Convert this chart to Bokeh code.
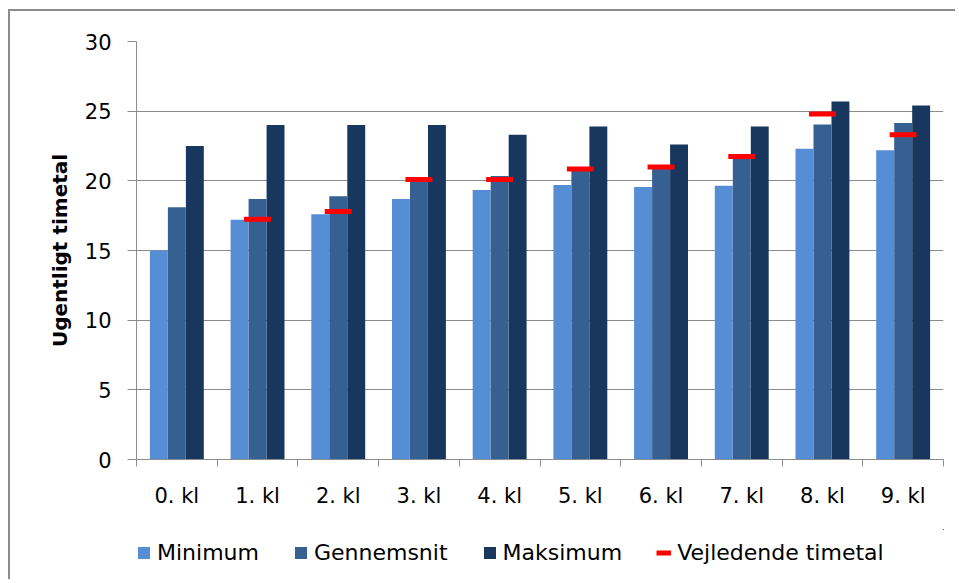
from bokeh.plotting import figure
from bokeh.layouts import column
from bokeh.models import (Range1d, FixedTicker, LinearAxis, Legend, LegendItem,
                          ColumnDataSource, Grid)
from bokeh.embed import file_html
from bokeh.resources import INLINE
import numpy as np

# ---- data ----
categories = ["0. kl", "1. kl", "2. kl", "3. kl", "4. kl",
              "5. kl", "6. kl", "7. kl", "8. kl", "9. kl"]
minimum = [15.0, 17.2, 17.6, 18.7, 19.35, 19.7, 19.55, 19.65, 22.3, 22.2]
gennemsnit = [18.1, 18.7, 18.9, 20.05, 20.35, 20.75, 20.95, 21.7, 24.05, 24.15]
maksimum = [22.5, 24.0, 24.0, 24.0, 23.3, 23.9, 22.6, 23.9, 25.7, 25.4]
vejledende = [None, 17.25, 17.8, 20.1, 20.1, 20.85, 21.0, 21.75, 24.8, 23.3]
y_ticks = [0, 5, 10, 15, 20, 25, 30]
series_names = ["Minimum", "Gennemsnit", "Maksimum", "Vejledende timetal"]

FONT = "DejaVu Sans"
GRAY = "#8c8c8c"
colors = ["#558ED5", "#376092", "#17375E"]
RED = "#FF0000"

# ---- main chart ----
p = figure(width=945, height=518, frame_width=807, frame_height=418,
           output_backend="svg", toolbar_location=None,
           x_range=Range1d(0, len(categories)), y_range=Range1d(0, 30),
           x_axis_type=None, y_axis_type=None,
           min_border_left=126, min_border_right=12, min_border_top=30,
           min_border_bottom=70)
p.outline_line_color = None
p.background_fill_color = "white"
p.border_fill_color = "white"

yax = LinearAxis(ticker=FixedTicker(ticks=y_ticks))
yax.axis_line_color = GRAY
yax.major_tick_line_color = GRAY
yax.major_tick_out = 9
yax.major_tick_in = 0
yax.minor_tick_line_color = None
yax.major_label_standoff = 16
yax.major_label_text_font = FONT
yax.major_label_text_font_size = "21px"
yax.major_label_text_color = "black"
yax.axis_label = "Ugentligt timetal"
yax.axis_label_text_font = FONT
yax.axis_label_text_font_style = "bold"
yax.axis_label_text_font_size = "20px"
yax.axis_label_text_color = "black"
yax.axis_label_standoff = 10
p.add_layout(yax, "left")

centers = [i + 0.5 for i in range(len(categories))]
bounds = list(range(len(categories) + 1))
xax = LinearAxis(ticker=FixedTicker(ticks=centers, minor_ticks=bounds))
xax.major_label_overrides = {c: lab for c, lab in zip(centers, categories)}
xax.axis_line_color = GRAY
xax.major_tick_line_color = None
xax.major_tick_out = 0
xax.major_tick_in = 0
xax.minor_tick_line_color = GRAY
xax.minor_tick_out = 7
xax.minor_tick_in = 0
xax.major_label_standoff = 17
xax.major_label_text_font = FONT
xax.major_label_text_font_size = "21px"
xax.major_label_text_color = "black"
p.add_layout(xax, "below")

p.add_layout(Grid(dimension=1, ticker=FixedTicker(ticks=y_ticks),
                  grid_line_color=GRAY, grid_line_width=1))

x = np.arange(len(categories)) + 0.5
bw = 0.222
off = 0.223
bar_sources = []
for vals, dx, col in zip([minimum, gennemsnit, maksimum], [-off, 0.0, off], colors):
    src = ColumnDataSource(dict(x=x + dx, top=vals))
    bar_sources.append(src)
    p.vbar(x="x", top="top", width=bw, bottom=0, source=src,
           fill_color=col, line_color=None)

vx = [xi for xi, v in zip(x, vejledende) if v is not None]
vy = [v for v in vejledende if v is not None]
hw = 0.167
vsrc = ColumnDataSource(dict(x0=[a - hw for a in vx], x1=[a + hw for a in vx], y=vy))
p.segment(x0="x0", x1="x1", y0="y", y1="y", source=vsrc,
          line_color=RED, line_width=5)

# ---- legend strip (same data, view kept off its visible range) ----
pl = figure(width=945, height=50, output_backend="svg", toolbar_location=None,
            x_range=Range1d(-100, -99), y_range=Range1d(-100, -99),
            x_axis_type=None, y_axis_type=None, min_border=0)
pl.outline_line_color = None
pl.grid.visible = False
pl.background_fill_color = "white"
pl.border_fill_color = "white"
lr = []
for src, col in zip(bar_sources, colors):
    lr.append(pl.vbar(x="x", top="top", width=bw, bottom=0, source=src,
                      fill_color=col, line_color=None))
lr.append(pl.segment(x0="x0", x1="x1", y0="y", y1="y", source=vsrc,
                     line_color=RED, line_width=5))

legend = Legend(items=[LegendItem(label=n, renderers=[r]) for n, r in zip(series_names, lr)],
                orientation="horizontal", location=(0, 14))
legend.label_text_font = FONT
legend.label_text_font_size = "22px"
legend.label_text_color = "black"
legend.glyph_width = 15
legend.glyph_height = 15
legend.label_standoff = 6
legend.spacing = 34
legend.padding = 0
legend.margin = 0
legend.border_line_color = None
legend.background_fill_alpha = 0
pl.add_layout(legend, "center")

layout = column(p, pl, spacing=0)
layout.styles = {"position": "relative", "left": "8px", "top": "9px",
                 "border-top": "2px solid #8c8c8c", "border-left": "2px solid #8c8c8c"}

open("out.html", "w").write(file_html(layout, INLINE))
